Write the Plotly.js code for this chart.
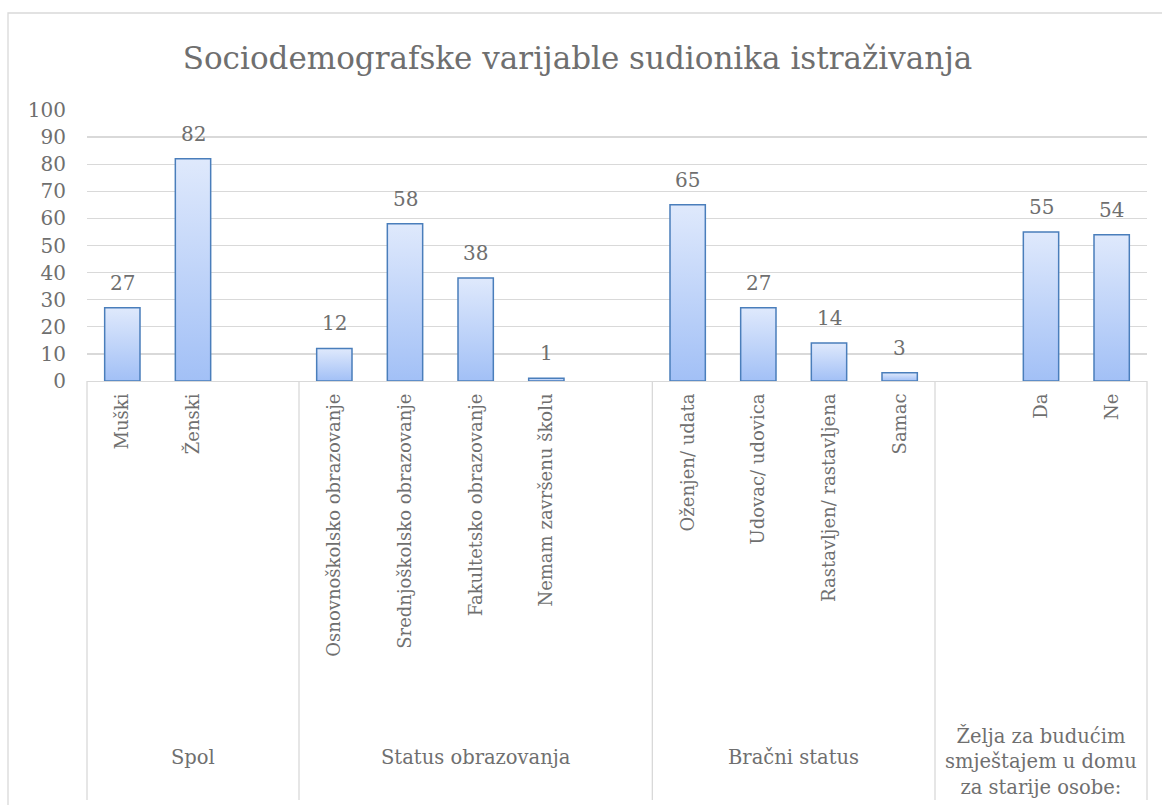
<!DOCTYPE html>
<html>
<head>
<meta charset="utf-8">
<script src="https://cdn.plot.ly/plotly-3.0.1.min.js"></script>
<style>
  html, body { margin: 0; padding: 0; background: #fff; }
  #chart { width: 1162px; height: 805px; }
</style>
</head>
<body>
<div id="chart"></div>
<script>
// ---- data ----
var chartTitle = 'Sociodemografske varijable sudionika istraživanja';
var categories = ['Muški', 'Ženski', '',
  'Osnovnoškolsko obrazovanje', 'Srednjoškolsko obrazovanje', 'Fakultetsko obrazovanje', 'Nemam završenu školu', '',
  'Oženjen/ udata', 'Udovac/ udovica', 'Rastavljen/ rastavljena', 'Samac', '',
  'Da', 'Ne'];
var values = [27, 82, null, 12, 58, 38, 1, null, 65, 27, 14, 3, null, 55, 54];
var groupLabels = ['Spol', 'Status obrazovanja', 'Bračni status',
  'Želja za budućim<br>smještajem u domu<br>za starije osobe:'];
var groupSizes = [3, 5, 4, 3];
var yTicks = [0, 10, 20, 30, 40, 50, 60, 70, 80, 90, 100];

// ---- style ----
var FONT = 'DejaVu Serif, Liberation Serif, serif';
var GREY = '#6f6f6f';
var GRID = '#d9d9d9';

var slots = categories.map(function (_, i) { return i; });
var nSlots = categories.length;

var trace = {
  type: 'bar',
  x: slots,
  y: values,
  width: 0.5,
  marker: { color: '#bcd3f8', line: { color: '#4a7ebb', width: 1.5 } },
  hoverinfo: 'skip'
};

var annotations = [];
// data labels
values.forEach(function (v, i) {
  if (v === null) return;
  annotations.push({
    x: i, y: v, xref: 'x', yref: 'y', text: String(v), showarrow: false,
    yanchor: 'bottom', yshift: 11, font: { family: FONT, size: 20, color: GREY }
  });
});

var shapes = [];
// group separators and group labels
var start = 0;
var plotH = 805 - 110 - 424;
function pyPix(px) { return (381 - px) / plotH; }
shapes.push({ type: 'line', xref: 'paper', yref: 'paper', x0: 0, x1: 0, y0: 0, y1: pyPix(800), line: { color: GRID, width: 1.3 } });
groupSizes.forEach(function (n, g) {
  var end = start + n;
  shapes.push({ type: 'line', xref: 'paper', yref: 'paper', x0: end / nSlots, x1: end / nSlots, y0: 0, y1: pyPix(800), line: { color: GRID, width: 1.3 } });
  var multi = groupLabels[g].indexOf('<br>') >= 0;
  annotations.push({
    x: (start + end) / 2 / nSlots, xref: 'paper', yref: 'paper',
    y: multi ? pyPix(722) : pyPix(744), yanchor: 'top', xanchor: 'center',
    text: groupLabels[g], showarrow: false, align: 'center',
    font: { family: FONT, size: 19.5, color: GREY }
  });
  start = end;
});
// outer chart border
shapes.push({ type: 'rect', xref: 'paper', yref: 'paper',
  x0: (8 - 87) / 1060, x1: (1200 - 87) / 1060, y0: pyPix(900), y1: pyPix(13),
  line: { color: GRID, width: 1.3 }, fillcolor: 'rgba(0,0,0,0)', layer: 'below' });

var layout = {
  width: 1162, height: 805,
  margin: { l: 87, r: 15, t: 110, b: 424 },
  paper_bgcolor: '#ffffff', plot_bgcolor: '#ffffff',
  showlegend: false,
  title: { text: chartTitle, xref: 'container', yref: 'container', x: 0.497, y: 1 - 58 / 805,
    xanchor: 'center', yanchor: 'middle', font: { family: FONT, size: 31, color: GREY } },
  xaxis: {
    range: [-0.5, nSlots - 0.5], tickmode: 'array', tickvals: slots, ticktext: categories,
    tickangle: -90, showgrid: false, zeroline: false, showline: true, linecolor: GRID, linewidth: 1.3,
    ticks: '', tickfont: { family: FONT, size: 18, color: GREY }, ticklabelstandoff: 4, fixedrange: true
  },
  yaxis: {
    range: [0, 100], tickmode: 'array', tickvals: yTicks, showgrid: true, gridcolor: GRID, gridwidth: 1.3,
    zeroline: false, showline: false, ticks: '', tickfont: { family: FONT, size: 20, color: GREY },
    ticklabelstandoff: 20, fixedrange: true
  },
  annotations: annotations,
  shapes: shapes
};

function applyGradient(gd) {
  var svg = gd.querySelector('svg.main-svg');
  if (!svg) return;
  var defs = svg.querySelector('defs');
  if (!defs) { defs = document.createElementNS('http://www.w3.org/2000/svg', 'defs'); svg.insertBefore(defs, svg.firstChild); }
  if (!svg.querySelector('#barGrad')) {
    var ns = 'http://www.w3.org/2000/svg';
    var lg = document.createElementNS(ns, 'linearGradient');
    lg.setAttribute('id', 'barGrad');
    lg.setAttribute('x1', '0'); lg.setAttribute('y1', '0'); lg.setAttribute('x2', '0'); lg.setAttribute('y2', '1');
    [['0', '#dfe9fc'], ['1', '#a2c0f6']].forEach(function (s) {
      var st = document.createElementNS(ns, 'stop');
      st.setAttribute('offset', s[0]); st.setAttribute('stop-color', s[1]);
      lg.appendChild(st);
    });
    defs.appendChild(lg);
  }
  gd.querySelectorAll('.barlayer .point path').forEach(function (p) {
    p.style.fill = 'url(#barGrad)';
  });
}

var gd = document.getElementById('chart');
Plotly.newPlot(gd, [trace], layout, { displayModeBar: false, staticPlot: true }).then(function () {
  applyGradient(gd);
  gd.on('plotly_afterplot', function () { applyGradient(gd); });
});
</script>
</body>
</html>
